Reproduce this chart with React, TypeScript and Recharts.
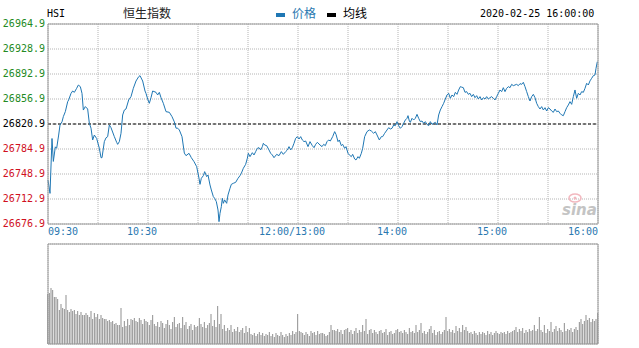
import { LineChart, Line, BarChart, Bar, XAxis, YAxis, CartesianGrid, ReferenceLine } from 'recharts'

const PREV_CLOSE = 26820.9

// minutes since 09:30, lunch removed (150 = 12:00/13:00, 330 = 16:00)
const timeTicks = [0, 30, 60, 90, 120, 150, 180, 210, 240, 270, 300, 330]
const timeLabels = ['09:30', '', '10:30', '', '', '12:00/13:00', '', '14:00', '', '15:00', '', '16:00']

const priceTicks = [26676.9, 26712.9, 26748.9, 26784.9, 26820.9, 26856.9, 26892.9, 26928.9, 26964.9]
const pctLabels = ['-0.54%', '-0.40%', '-0.27%', '-0.13%', '0.00%', '+0.13%', '+0.27%', '+0.40%', '+0.54%']

const priceMinutes = [
  0, 1.2, 2.4, 3.2, 4.4, 5.2, 6.4, 7.2, 8.4, 9.2, 10.4, 11.8, 12.4, 13.8, 14.8, 15.8, 17.2, 18.2, 19.4, 20.4,
  21.2, 22.4, 23.8, 24.8, 25.8, 26.8, 27.8, 29.2, 30.8, 31.8, 32.4, 33.8, 34.8, 35.8, 36.8, 37.8, 39.8, 41.2, 41.8, 42.8,
  43.8, 44.8, 45.8, 46.8, 48.4, 49.8, 51.2, 52.8, 54.4, 55.2, 56.8, 58.2, 58.8, 59.8, 60.8, 61.8, 62.8, 64.8, 65.8, 66.8,
  67.8, 69.2, 70.8, 72.8, 74.4, 75.8, 76.8, 77.8, 78.8, 80.4, 81.8, 82.8, 84.6, 86, 87.6, 89.2, 90.6, 91.2, 92, 93.2,
  94, 95.2, 96, 97.2, 98, 99.2, 100, 101, 102, 102.6, 103.2, 104, 104.6, 105.2, 106, 107.2, 108, 109.2, 110, 111.2,
  112.6, 114, 115.2, 116, 117.2, 118.6, 119.6, 120.2, 121.2, 122.6, 123.6, 124.6, 125.6, 126.6, 127.6, 128.6, 129.2, 130, 131.2, 132.6,
  133.6, 134.6, 135.6, 137.2, 138.6, 140, 141.2, 142.6, 143.6, 144.6, 145.6, 146.6, 147.6, 148.6, 149.6, 150.6, 151.6, 152.6, 153.6, 154.6,
  156, 157.2, 158.6, 159.6, 160.6, 161.6, 163.2, 164.4, 165.4, 166.4, 167.4, 168.4, 169.4, 170.8, 172, 172.8, 174, 174.8, 176, 176.8,
  178, 178.8, 180, 180.8, 182, 182.8, 184, 184.8, 186, 186.8, 188, 188.8, 190, 191.4, 192.8, 194, 195.4, 196.4, 197.4, 198.8,
  200, 200.8, 202, 203.4, 204.4, 205.4, 206.4, 207.4, 208.4, 209.4, 210.4, 211.4, 212.4, 213.4, 214.4, 215.4, 216, 216.8, 217.4, 218.4,
  219.4, 220.4, 221.4, 222.4, 223.4, 224.4, 225.4, 226.4, 227.4, 228.4, 229.4, 230.4, 231.4, 232.4, 233.4, 234.4, 235.4, 236.4, 237.4, 238.4,
  239.4, 240.4, 241.4, 242.4, 243.4, 244.4, 245.4, 246.4, 247.4, 248.2, 249.2, 250.2, 251.2, 252.2, 253.2, 254.2, 255.2, 256.2, 257.2, 258.2,
  259.2, 260.2, 261.2, 262.2, 263.2, 264.2, 265.2, 266.2, 267.2, 268.2, 269.2, 270.2, 271.2, 272.2, 273.2, 274.2, 275.2, 276.2, 277.2, 278.2,
  279.2, 280.2, 281.2, 282.2, 283.2, 284.2, 285.2, 286.2, 287.2, 288.2, 289.2, 290.2, 291.2, 292.2, 293.2, 294.2, 295.2, 296.2, 297.2, 298.2,
  299.2, 300.2, 301.2, 302.2, 303.2, 304.2, 305.2, 306.2, 307.2, 308.2, 309.2, 310.2, 311.2, 312.2, 313.2, 314.2, 315.2, 316.2, 317.2, 318.2,
  319.2, 320.2, 321.2, 322.2, 323.2, 324.2, 325.2, 326.2, 327.2, 328.2, 328.8, 329.6,
]

const priceValues = [
  26740, 26721, 26800, 26767, 26788, 26786, 26805, 26819.5, 26824, 26831.5, 26838.7, 26853, 26855.5, 26865, 26868.4, 26866.5, 26872.3, 26877, 26874.7, 26865,
  26841, 26846, 26842.5, 26822, 26814.9, 26797.9, 26805, 26800, 26786, 26772.4, 26772.4, 26795.5, 26801, 26802.7, 26819.5, 26815.6, 26802.7, 26794.5, 26791.6, 26795.5,
  26807.5, 26833.9, 26841, 26842.5, 26855.5, 26860.3, 26872.3, 26882.8, 26889, 26890.5, 26882.8, 26868.4, 26865, 26856.9, 26850.7, 26858.8, 26868.4, 26866.5, 26862.7, 26866.5,
  26858.8, 26850.7, 26838.7, 26837.7, 26831.5, 26824, 26814.9, 26814.9, 26812.3, 26802.7, 26779, 26775.3, 26778.7, 26772.4, 26766.7, 26759.5, 26742.7, 26734, 26742.7, 26746.5,
  26752.3, 26745.1, 26747.5, 26733.1, 26725.9, 26716.3, 26713.9, 26709.1, 26697.1, 26680.3, 26692.3, 26701.9, 26713.9, 26706.7, 26711.5, 26706.7, 26718.7, 26728.3, 26734, 26735.5,
  26736.9, 26742.7, 26746.5, 26749.9, 26757.1, 26762.8, 26771.5, 26778.7, 26773.9, 26779.6, 26776.3, 26781.1, 26785.9, 26786.8, 26783.5, 26788.3, 26793.1, 26790.7, 26789.7, 26783.5,
  26778.7, 26776.3, 26772.4, 26777.2, 26775.3, 26781.1, 26777.2, 26781.1, 26783.5, 26788.3, 26783.5, 26786.8, 26793.1, 26800.3, 26802.7, 26799.3, 26802.7, 26797.9, 26795.5, 26796.4,
  26788.3, 26795.5, 26789.7, 26786.8, 26791.6, 26794.5, 26790.7, 26788.3, 26791.6, 26789.7, 26795.5, 26797.9, 26796.4, 26802.7, 26809.9, 26806, 26795.5, 26797.9, 26789.7, 26791.6,
  26785.9, 26788.3, 26778.7, 26776.3, 26773.9, 26777.2, 26770.5, 26769.1, 26773.9, 26771.5, 26778.7, 26785.9, 26802.7, 26809.9, 26812.3, 26810.8, 26807.5, 26809.9, 26805.1, 26797.9,
  26802.7, 26802.7, 26807.5, 26812.3, 26815.6, 26813.7, 26814.7, 26819.5, 26818.5, 26824.3, 26818.5, 26814.7, 26817.1, 26821.9, 26826.7, 26829.1, 26832.9, 26825.2, 26823.3, 26829.1,
  26826.7, 26829.1, 26834.8, 26829.1, 26824.3, 26825.2, 26821.9, 26824.3, 26820.4, 26818.5, 26824.3, 26820.4, 26821.9, 26823.3, 26819.5, 26833.9, 26841.1, 26845.9, 26850.7, 26856.9,
  26862.7, 26865.1, 26857.9, 26862.7, 26860.3, 26866.5, 26863.6, 26869.9, 26874.7, 26874, 26873.2, 26866.5, 26867.5, 26863.6, 26865.1, 26860.3, 26863.6, 26858.8, 26861.7, 26856.9,
  26860.3, 26855.5, 26858.8, 26856.9, 26860.3, 26856.9, 26858.8, 26860.3, 26857.9, 26855.5, 26860.3, 26865.1, 26869.9, 26867.5, 26873.2, 26867.5, 26872.3, 26874.7, 26873.2, 26878,
  26876.1, 26877.1, 26878, 26876.1, 26879, 26878, 26880.9, 26874.7, 26867.5, 26860.3, 26854, 26860.3, 26863.6, 26858.8, 26850.7, 26845.9, 26842.5, 26845.9, 26841.1, 26844.4,
  26839.6, 26844.4, 26842.5, 26839.6, 26837.7, 26842.5, 26838.7, 26839.6, 26836.3, 26833.9, 26832.9, 26838.7, 26844.4, 26848.3, 26853.1, 26849.2, 26860.3, 26869.9, 26857.9, 26865.1,
  26862.7, 26867.5, 26866.5, 26872.3, 26879.5, 26877.1, 26883, 26886.7, 26890.5, 26891.5, 26901, 26910.7,
]

// per-minute volume, relative units (panel top = 100)
const volumes = [
  50, 51, 56, 54, 47, 47, 45, 34, 40, 36, 35, 49, 34, 32, 35, 33, 34, 30, 33, 29, 32, 29, 29, 31, 29, 27, 33, 25, 31, 27,
  30, 25, 29, 26, 25, 25, 23, 24, 22, 23, 20, 21, 19, 19, 36, 17, 23, 18, 25, 19, 25, 24, 26, 23, 22, 26, 24, 20, 25, 23,
  22, 19, 24, 29, 20, 18, 22, 17, 23, 21, 16, 20, 24, 19, 15, 22, 27, 17, 20, 21, 16, 27, 19, 22, 15, 18, 20, 14, 19, 17,
  18, 26, 20, 17, 22, 16, 19, 21, 30, 18, 24, 17, 38, 20, 30, 15, 19, 13, 16, 14, 19, 12, 15, 13, 17, 12, 14, 16, 11, 18,
  12, 16, 10, 9, 11, 8, 10, 12, 9, 11, 8, 10, 9, 12, 8, 10, 7, 11, 9, 8, 12, 9, 7, 10, 8, 11, 9, 13, 10, 12,
  30, 13, 12, 11, 9, 12, 10, 8, 13, 11, 12, 9, 13, 10, 11, 11, 10, 8, 9, 12, 19, 14, 14, 13, 15, 12, 14, 10, 14, 15,
  16, 12, 14, 10, 13, 16, 11, 14, 12, 19, 13, 25, 10, 14, 15, 11, 14, 12, 10, 13, 14, 11, 12, 15, 9, 12, 13, 10, 11, 14,
  15, 12, 13, 11, 14, 12, 10, 16, 12, 13, 11, 19, 12, 14, 21, 11, 13, 10, 12, 15, 18, 11, 14, 9, 12, 13, 10, 12, 14, 27,
  13, 15, 12, 14, 11, 18, 13, 16, 12, 19, 14, 17, 13, 11, 12, 10, 13, 11, 9, 12, 10, 12, 11, 9, 13, 10, 12, 9, 11, 13,
  11, 10, 12, 11, 12, 10, 13, 11, 12, 13, 14, 17, 12, 15, 13, 16, 11, 14, 12, 15, 13, 14, 19, 13, 15, 27, 14, 12, 19, 11,
  15, 13, 22, 12, 15, 18, 13, 16, 14, 12, 21, 13, 15, 14, 16, 12, 15, 17, 14, 22, 25, 20, 23, 29, 24, 26, 22, 25, 23, 25,
  31,
]

const priceData = priceMinutes.map((m, i) => ({ m, p: priceValues[i] }))
const volData = volumes.map((v, i) => ({ m: i, v }))

const MONO = '"DejaVu Sans Mono", monospace'
const CJK = '"Noto Sans CJK SC", sans-serif'
const UP = '#238a23'
const DOWN = '#d0101e'
const BLUE = '#1f77b4'
const FRAME = '#9a9a9a'
const GRID = '#b4b4b4'

function tickColor(i: number) {
  if (i > 4) return UP
  if (i < 4) return DOWN
  return '#000'
}

function LeftTick(props: any) {
  const { x, y, index, payload } = props
  return (
    <text x={x} y={y + 3} textAnchor="end" fontFamily={MONO} fontSize={10} fill={tickColor(index)}>
      {payload.value.toFixed(1)}
    </text>
  )
}

function RightTick(props: any) {
  const { x, y, index } = props
  return (
    <text x={x + 34} y={y + 3} textAnchor="end" fontFamily={MONO} fontSize={10} fill={tickColor(index)}>
      {pctLabels[index]}
    </text>
  )
}

function TimeTick(props: any) {
  const { x, y, payload } = props
  const i = timeTicks.indexOf(payload.value)
  const label = timeLabels[i]
  if (!label) return null
  let anchor = 'middle'
  let dx = -6
  if (i === 0) { anchor = 'start'; dx = 0 }
  if (i === timeTicks.length - 1) { anchor = 'end'; dx = 0 }
  return (
    <text x={x + dx} y={y + 11} textAnchor={anchor} fontFamily={MONO} fontSize={10} fill="#2a78b0">
      {label}
    </text>
  )
}

export default function App() {
  return (
    <div style={{ position: 'absolute', left: 0, top: 0, width: 639, height: 348, background: '#fff' }}>
      <div style={{ position: 'absolute', left: 0, top: 0 }}>
        <LineChart width={639} height={240} data={priceData} margin={{ top: 0, right: 0, bottom: 0, left: 0 }}>
          <CartesianGrid stroke={GRID} strokeDasharray="1 1" />
          <XAxis
            dataKey="m"
            type="number"
            domain={[0, 330]}
            ticks={timeTicks}
            interval={0}
            height={16}
            tickSize={0}
            tickMargin={0}
            tick={<TimeTick />}
            axisLine={{ stroke: FRAME }}
          />
          <XAxis xAxisId="top" orientation="top" type="number" domain={[0, 330]} height={24} tick={false} tickLine={false} axisLine={{ stroke: FRAME }} />
          <YAxis
            domain={[26676.9, 26964.9]}
            ticks={priceTicks}
            interval={0}
            width={48}
            tickSize={0}
            tickMargin={3}
            tick={<LeftTick />}
            axisLine={{ stroke: FRAME }}
          />
          <YAxis
            yAxisId="r"
            orientation="right"
            domain={[26676.9, 26964.9]}
            ticks={priceTicks}
            interval={0}
            width={41}
            tickSize={0}
            tickMargin={3}
            tick={<RightTick />}
            axisLine={{ stroke: FRAME }}
          />
          <ReferenceLine y={PREV_CLOSE} stroke="#000" strokeDasharray="3 2" />
          <Line type="linear" dataKey="p" stroke={BLUE} strokeWidth={1} dot={false} isAnimationActive={false} />
        </LineChart>
      </div>
      <div style={{ position: 'absolute', left: 0, top: 240 }}>
        <BarChart width={639} height={108} data={volData} margin={{ top: 0, right: 0, bottom: 0, left: 0 }}>
          <CartesianGrid stroke={GRID} strokeDasharray="1 1" />
          <XAxis dataKey="m" type="number" domain={[0, 330]} ticks={timeTicks} interval={0} height={4} tick={false} tickLine={false} axisLine={{ stroke: FRAME }} />
          <XAxis xAxisId="top" orientation="top" type="number" domain={[0, 330]} height={4} tick={false} tickLine={false} axisLine={{ stroke: FRAME }} />
          <YAxis domain={[0, 100]} ticks={[0, 25, 50, 75, 100]} width={48} tick={false} tickLine={false} axisLine={{ stroke: FRAME }} />
          <YAxis yAxisId="r" orientation="right" domain={[0, 100]} width={41} tick={false} tickLine={false} axisLine={{ stroke: FRAME }} />
          <Bar dataKey="v" fill="#8f8f8f" barSize={1} isAnimationActive={false} />
        </BarChart>
      </div>
      <svg width={639} height={24} style={{ position: 'absolute', left: 0, top: 0 }}>
        <text x={47} y={17} fontFamily={MONO} fontSize={10} fill="#000">HSI</text>
        <text x={123} y={18} fontFamily={CJK} fontSize={12} fill="#222">恒生指数</text>
        <rect x={276} y={13} width={9} height={4} fill={BLUE} />
        <text x={292} y={18} fontFamily={CJK} fontSize={12} fill="#2a78b0">价格</text>
        <rect x={327} y={13} width={9} height={4} fill="#000" />
        <text x={343} y={18} fontFamily={CJK} fontSize={12} fill="#000">均线</text>
        <text x={480} y={17} fontFamily={MONO} fontSize={10} fill="#000">2020-02-25 16:00:00</text>
      </svg>
      <svg width={40} height={30} style={{ position: 'absolute', left: 560, top: 190 }}>
        <ellipse cx={15} cy={8} rx={6} ry={4} fill="none" stroke="#f2b8bf" strokeWidth={1.5} />
        <circle cx={15} cy={8} r={1.5} fill="#f2b8bf" />
        <text x={2} y={25} fontFamily="DejaVu Sans" fontStyle="italic" fontWeight="bold" fontSize={15} fill="#c4c4c4">sina</text>
      </svg>
    </div>
  )
}
